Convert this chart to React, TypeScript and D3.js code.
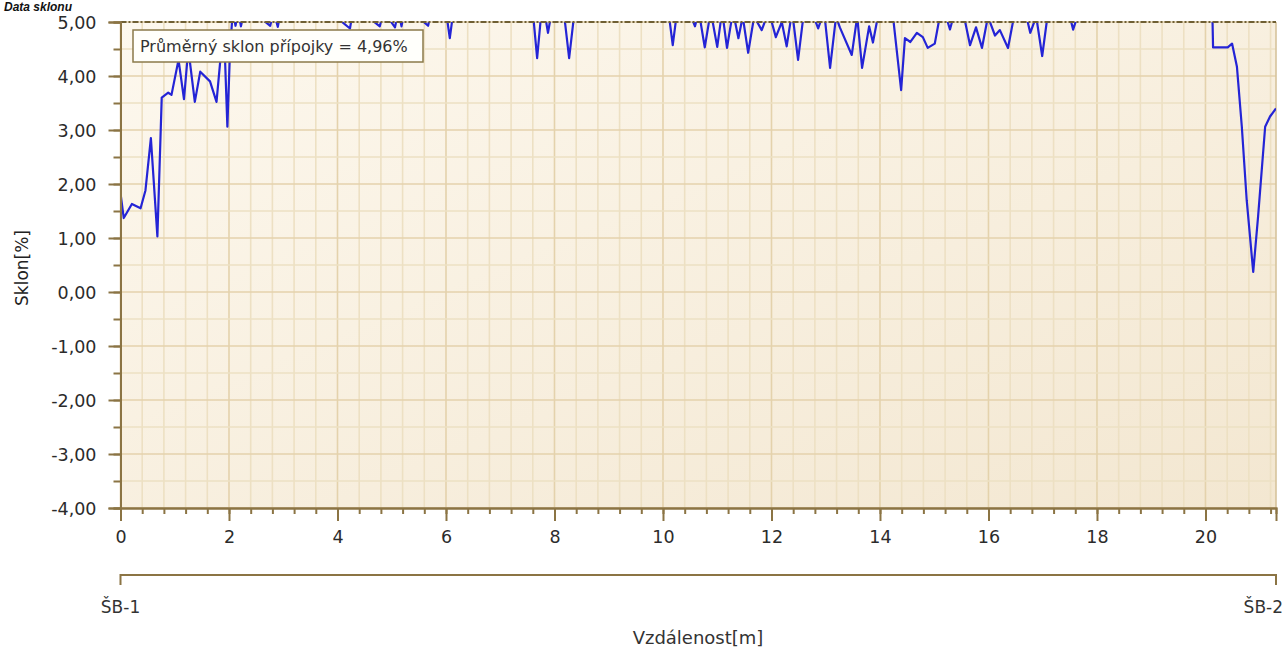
import * as d3 from "d3";
import { useEffect, useRef } from "react";

// vzdálenost [m] a sklon [%]
const distances = [
  0.0, 0.06, 0.21, 0.37, 0.46, 0.56, 0.68, 0.76, 0.88, 0.94, 1.07, 1.17, 1.25, 1.37, 1.47, 1.65, 1.77, 1.85, 1.91, 1.97,
  2.02, 2.07, 2.12, 2.17, 2.22, 2.3, 2.76, 2.82, 2.9, 2.97, 3.6, 4.23, 4.3, 4.78, 4.85, 5.06, 5.12, 5.18, 5.25, 5.67,
  5.75, 6.0, 6.07, 6.15, 7.0, 7.6, 7.68, 7.76, 7.83, 7.88, 7.95, 8.17, 8.27, 8.37, 9.0, 9.6, 10.1, 10.18, 10.26, 10.52,
  10.59, 10.66, 10.77, 10.88, 11.0, 11.09, 11.18, 11.29, 11.39, 11.47, 11.57, 11.68, 11.82, 11.95, 12.08, 12.19, 12.28, 12.38, 12.49, 12.6,
  12.78, 12.86, 12.97, 13.08, 13.19, 13.26, 13.48, 13.58, 13.67, 13.8, 13.87, 13.98, 14.24, 14.39, 14.46, 14.56, 14.68, 14.79, 14.88, 15.01,
  15.12, 15.22, 15.29, 15.38, 15.55, 15.66, 15.77, 15.88, 15.99, 16.12, 16.21, 16.36, 16.47, 16.7, 16.77, 16.88, 16.99, 17.1, 17.5, 17.56,
  17.67, 18.5, 19.3, 20.12, 20.14, 20.41, 20.49, 20.58, 20.67, 20.76, 20.88, 20.97, 21.1, 21.19, 21.3,
];
const slopes = [
  1.83, 1.37, 1.63, 1.55, 1.88, 2.85, 1.03, 3.6, 3.69, 3.65, 4.3, 3.57, 4.5, 3.52, 4.08, 3.9, 3.52, 4.4, 4.8, 3.06,
  4.5, 5.2, 4.93, 5.2, 4.92, 5.3, 4.93, 5.2, 4.91, 5.3, 5.4, 4.88, 5.3, 4.92, 5.2, 4.9, 5.2, 4.92, 5.3, 4.93,
  5.3, 5.2, 4.7, 5.3, 5.4, 5.2, 4.33, 5.2, 5.1, 4.8, 5.2, 5.2, 4.33, 5.2, 5.3, 5.3, 5.2, 4.57, 5.2, 5.1,
  4.92, 5.2, 4.53, 5.2, 4.54, 5.2, 4.52, 5.2, 4.7, 5.1, 4.43, 5.1, 4.85, 5.2, 4.72, 5.0, 4.55, 5.2, 4.3, 5.2,
  5.1, 4.88, 5.2, 4.15, 5.1, 4.9, 4.39, 5.1, 4.15, 4.92, 4.62, 5.2, 5.1, 3.74, 4.7, 4.63, 4.8, 4.72, 4.52, 4.6,
  5.2, 5.1, 4.86, 5.2, 5.1, 4.57, 4.9, 4.52, 5.1, 4.75, 4.85, 4.52, 5.1, 5.1, 4.8, 5.1, 4.37, 5.2, 5.1, 4.86,
  5.2, 5.4, 5.3, 5.5, 4.53, 4.53, 4.6, 4.17, 3.06, 1.7, 0.37, 1.4, 3.06, 3.25, 3.4,
];

const xTicks = [0, 2, 4, 6, 8, 10, 12, 14, 16, 18, 20];
const yTicks = [-4, -3, -2, -1, 0, 1, 2, 3, 4, 5];
const nodeLabels = ["ŠB-1", "ŠB-2"];
const averageLabel = "Průměrný sklon přípojky = 4,96%";
const limitSlope = 5;

const W = 1286;
const H = 650;
const M = { left: 120.5, right: 1276, top: 22, bottom: 508 };
const FONT = "'DejaVu Sans', Verdana, sans-serif";
const AXIS = "#8b7444";

export default function App() {
  const svgRef = useRef<SVGSVGElement>(null);

  useEffect(() => {
    if (!svgRef.current) return;
    const svg = d3.select(svgRef.current);
    svg.selectAll("*").remove();

    const x = d3.scaleLinear().domain([0, 21.3]).range([M.left, M.right]);
    const y = d3.scaleLinear().domain([-4, 5]).range([M.bottom, M.top]);

    const defs = svg.append("defs");
    const grad = defs
      .append("linearGradient")
      .attr("id", "bg")
      .attr("x1", "0")
      .attr("y1", "0")
      .attr("x2", "1")
      .attr("y2", "1");
    grad.append("stop").attr("offset", "0%").attr("stop-color", "#fdf8ee");
    grad.append("stop").attr("offset", "100%").attr("stop-color", "#f3e7d1");
    defs
      .append("clipPath")
      .attr("id", "plot")
      .append("rect")
      .attr("x", M.left)
      .attr("y", M.top)
      .attr("width", M.right - M.left)
      .attr("height", M.bottom - M.top);

    // pozadí
    svg
      .append("rect")
      .attr("x", M.left)
      .attr("y", M.top)
      .attr("width", M.right - M.left)
      .attr("height", M.bottom - M.top)
      .attr("fill", "url(#bg)");

    // mřížka
    const xMinor = d3.range(0, 21.3, 0.4);
    const yMinor = d3.range(-4, 5.01, 0.5);
    const grid = svg.append("g");
    grid
      .selectAll("line.vx")
      .data(xMinor)
      .join("line")
      .attr("x1", (d) => x(d))
      .attr("x2", (d) => x(d))
      .attr("y1", M.top)
      .attr("y2", M.bottom)
      .attr("stroke", (d) => (Math.abs(d / 2 - Math.round(d / 2)) < 1e-6 ? "#e4d2ac" : "#ede0c3"))
      .attr("stroke-width", 1.6);
    grid
      .selectAll("line.hy")
      .data(yMinor)
      .join("line")
      .attr("x1", M.left)
      .attr("x2", M.right)
      .attr("y1", (d) => y(d))
      .attr("y2", (d) => y(d))
      .attr("stroke", (d) => (Number.isInteger(d) ? "#e4d2ac" : "#ede0c3"))
      .attr("stroke-width", 1.6);

    // pravý okraj
    svg
      .append("line")
      .attr("x1", M.right)
      .attr("x2", M.right)
      .attr("y1", M.top)
      .attr("y2", M.bottom)
      .attr("stroke", "#d6c39c")
      .attr("stroke-width", 1.6);

    // čára sklonu
    const line = d3
      .line<number>()
      .x((_, i) => x(distances[i]))
      .y((d) => y(d));
    svg
      .append("path")
      .attr("clip-path", "url(#plot)")
      .attr("d", line(slopes))
      .attr("fill", "none")
      .attr("stroke", "#2424d6")
      .attr("stroke-width", 2.2)
      .attr("stroke-linejoin", "round");

    // hranice 5 %
    svg
      .append("line")
      .attr("x1", M.left)
      .attr("x2", M.right)
      .attr("y1", y(limitSlope))
      .attr("y2", y(limitSlope))
      .attr("stroke", "#6f5f33")
      .attr("stroke-width", 1.8)
      .attr("stroke-dasharray", "6,2,2,2");

    const fmt = (d: d3.NumberValue) => (+d).toFixed(2).replace(".", ",");

    // osa Y
    const yMinorAxis = svg
      .append("g")
      .attr("transform", `translate(${M.left},0)`)
      .call(d3.axisLeft(y).tickValues(yMinor).tickSize(7).tickFormat(() => ""));
    const yAxis = svg
      .append("g")
      .attr("transform", `translate(${M.left},0)`)
      .call(d3.axisLeft(y).tickValues(yTicks).tickSize(12).tickPadding(12).tickFormat(fmt));

    // osa X
    const xMinorAxis = svg
      .append("g")
      .attr("transform", `translate(0,${M.bottom})`)
      .call(d3.axisBottom(x).tickValues(xMinor).tickSize(6).tickFormat(() => ""));
    const xAxis = svg
      .append("g")
      .attr("transform", `translate(0,${M.bottom})`)
      .call(d3.axisBottom(x).tickValues(xTicks).tickSize(13).tickPadding(10).tickFormat(d3.format("d")));

    [yMinorAxis, yAxis, xMinorAxis, xAxis].forEach((g) => {
      g.select(".domain").attr("stroke", AXIS).attr("stroke-width", 2);
      g.selectAll(".tick line").attr("stroke", AXIS).attr("stroke-width", 2);
      g.selectAll(".tick text")
        .attr("fill", "#2b2b2b")
        .attr("font-family", FONT)
        .attr("font-size", 17.5);
    });
    yAxis.selectAll(".tick text").attr("dy", "0.35em");

    // osa šachet
    const nodeY = 575;
    svg
      .append("path")
      .attr("d", `M${M.left},${nodeY + 10}V${nodeY}H${M.right}V${nodeY + 10}`)
      .attr("fill", "none")
      .attr("stroke", AXIS)
      .attr("stroke-width", 2);
    svg
      .append("text")
      .attr("x", M.left)
      .attr("y", 613)
      .attr("text-anchor", "middle")
      .attr("font-family", FONT)
      .attr("font-size", 17)
      .attr("fill", "#333")
      .text(nodeLabels[0]);
    svg
      .append("text")
      .attr("x", 1283)
      .attr("y", 613)
      .attr("text-anchor", "end")
      .attr("font-family", FONT)
      .attr("font-size", 17)
      .attr("fill", "#333")
      .text(nodeLabels[1]);

    // popisky os
    svg
      .append("text")
      .attr("x", 698)
      .attr("y", 644)
      .attr("text-anchor", "middle")
      .attr("font-family", FONT)
      .attr("font-size", 18)
      .attr("fill", "#333")
      .text("Vzdálenost[m]");
    svg
      .append("text")
      .attr("transform", `translate(28,268) rotate(-90)`)
      .attr("text-anchor", "middle")
      .attr("font-family", FONT)
      .attr("font-size", 17)
      .attr("fill", "#222")
      .text("Sklon[%]");

    // průměrný sklon
    svg
      .append("rect")
      .attr("x", 133)
      .attr("y", 30)
      .attr("width", 290)
      .attr("height", 32)
      .attr("fill", "#fffffb")
      .attr("stroke", "#8b7a4a")
      .attr("stroke-width", 1.5);
    svg
      .append("text")
      .attr("x", 140)
      .attr("y", 52)
      .attr("font-family", FONT)
      .attr("font-size", 16)
      .attr("fill", "#333")
      .text(averageLabel);

    // nadpis
    svg
      .append("text")
      .attr("x", 4)
      .attr("y", 11)
      .attr("font-family", "'Liberation Sans', Arial, sans-serif")
      .attr("font-weight", "bold")
      .attr("font-style", "italic")
      .attr("font-size", 12)
      .attr("fill", "#111")
      .text("Data sklonu");
  }, []);

  return (
    <svg
      ref={svgRef}
      width={W}
      height={H}
      style={{ position: "absolute", left: 0, top: 0, background: "#fff" }}
    />
  );
}
